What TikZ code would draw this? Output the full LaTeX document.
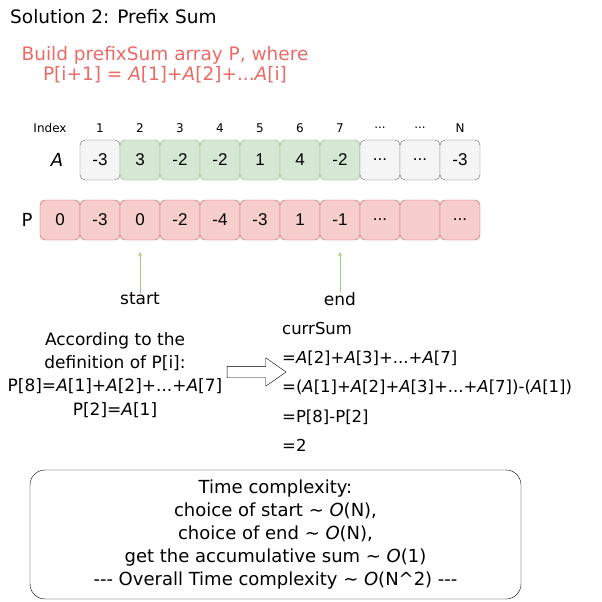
\documentclass[tikz,border=0pt]{standalone}
\usepackage{fontspec}
\setmainfont{DejaVu Sans}
\newfontfamily\cellfont{Liberation Sans}
\usetikzlibrary{shapes.arrows}

\definecolor{cellgray}{HTML}{F5F5F5}
\definecolor{cellgrayline}{HTML}{666666}
\definecolor{cellgreen}{HTML}{D5E8D4}
\definecolor{cellgreenline}{HTML}{82B366}
\definecolor{cellred}{HTML}{F8CECC}
\definecolor{cellredline}{HTML}{B85450}
\definecolor{notered}{HTML}{EA6B66}
\definecolor{pointgreen}{HTML}{97D077}

\newcommand{\dotsrow}{...}

\begin{document}
\begin{tikzpicture}[x=1pt, y=-1pt, >=stealth]

    \tikzset{
        txt/.style={inner sep=0pt, font=\fontsize{16}{23}\selectfont},
        cell/.style={rounded corners=5pt, minimum width=40pt, minimum height=40pt,
            inner sep=0pt, font=\cellfont\fontsize{17}{20}\selectfont},
        graycell/.style={cell, fill=cellgray, draw=cellgrayline},
        greencell/.style={cell, fill=cellgreen, draw=cellgreenline},
        redcell/.style={cell, fill=cellred, draw=cellredline},
        idx/.style={inner sep=0pt, font=\fontsize{12}{14}\selectfont},
        pointer/.style={->, pointgreen, thick, shorten >=12pt}
    }

    \useasboundingbox (0,0) rectangle (602,602);

    % Заголовок
    \node[txt, anchor=west, font=\fontsize{18.5}{22}\selectfont] (title) at (10,17) {Solution 2: Prefix Sum};
    \node[txt, notered, align=center, font=\fontsize{18.5}{20}\selectfont]
        (build) at (165,65) {Build prefixSum array P, where\\P[i+1] = \textit{A}[1]+\textit{A}[2]+...\textit{A}[i]};

    % Индексы
    \node[idx] (index) at (50,128) {Index};
    \foreach \v [count=\i] in {1,2,3,4,5,6,7,\dotsrow,\dotsrow,N}
        \node[idx] (i\i) at ({60+40*\i},128) {\v};

    % Массив A
    \node[txt, font=\itshape\fontsize{18}{20}\selectfont] (alabel) at (57,160) {A};
    \foreach \v/\s [count=\i] in {-3/graycell,3/greencell,-2/greencell,-2/greencell,
            1/greencell,4/greencell,-2/greencell,\dotsrow/graycell,\dotsrow/graycell,-3/graycell}
        \node[\s] (a\i) at ({60+40*\i},160) {\v};

    % Массив P
    \node[txt, font=\fontsize{18}{20}\selectfont] (plabel) at (27,220) {P};
    \foreach \v [count=\i] in {0,-3,0,-2,-4,-3,1,-1,\dotsrow,{},\dotsrow}
        \node[redcell] (p\i) at ({20+40*\i},220) {\v};

    % Указатели start / end
    \node[txt, font=\fontsize{17}{20}\selectfont] (start) at (140,299) {start};
    \node[txt, font=\fontsize{17}{20}\selectfont] (end) at (340,299) {end};
    \draw[pointer] (start) -- (p3);
    \draw[pointer] (end) -- (p8);

    % Определение P[i]
    \node[txt, align=center, font=\fontsize{17}{23.3}\selectfont] (defn) at (115,375)
        {According to the\\definition of P[i]:\\P[8]=\textit{A}[1]+\textit{A}[2]+...+\textit{A}[7]\\P[2]=\textit{A}[1]};

    \node[single arrow, draw, fill=white, minimum height=59pt, minimum width=28pt,
        single arrow head extend=8.5pt, single arrow tip angle=70, inner sep=5.5pt]
        (imply) at (252.5,372) {};

    % Вычисление currSum
    \node[txt, align=left, anchor=north west, font=\fontsize{16.5}{29.2}\selectfont]
        (curr) at (282,322)
        {currSum\\=\textit{A}[2]+\textit{A}[3]+...+\textit{A}[7]\\=(\textit{A}[1]+\textit{A}[2]+\textit{A}[3]+...+\textit{A}[7])-(\textit{A}[1])\\=P[8]-P[2]\\=2};

    % Сложность
    \node[txt, draw, rounded corners=15pt, minimum width=491pt, minimum height=129pt,
        align=center, font=\fontsize{18}{23}\selectfont] (cplx) at (275.5,534.5)
        {Time complexity:\\choice of start \textasciitilde{} \textit{O}(N),\\choice of end \textasciitilde{} \textit{O}(N),\\get the accumulative sum \textasciitilde{} \textit{O}(1)\\-{}-{}- Overall Time complexity \textasciitilde{} \textit{O}(N\textasciicircum 2) -{}-{}-};

\end{tikzpicture}
\end{document}
